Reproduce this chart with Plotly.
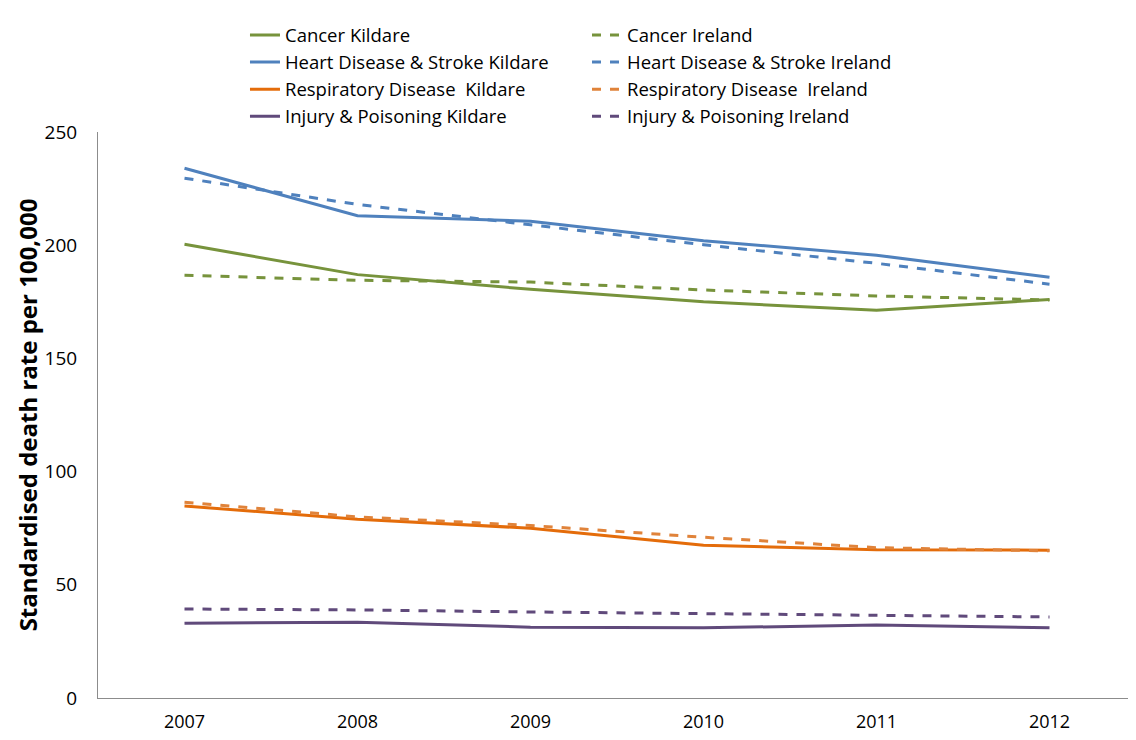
import plotly.graph_objects as go

years = ["2007", "2008", "2009", "2010", "2011", "2012"]

cancer_kildare = [200.4, 187.0, 180.5, 175.0, 171.3, 176.0]
cancer_ireland = [186.7, 184.5, 183.7, 180.2, 177.6, 175.8]
heart_kildare = [234.0, 213.0, 210.6, 202.0, 195.6, 185.8]
heart_ireland = [229.6, 218.0, 209.0, 200.2, 192.0, 182.8]
resp_kildare = [84.8, 79.0, 75.0, 67.5, 65.5, 65.3]
resp_ireland = [86.5, 80.0, 76.2, 71.0, 66.4, 65.0]
injury_kildare = [33.0, 33.5, 31.3, 31.0, 32.2, 31.0]
injury_ireland = [39.3, 38.9, 38.0, 37.2, 36.6, 35.8]

series = [
    ("Cancer Kildare", cancer_kildare, "#77933C", "solid", "legend"),
    ("Heart Disease & Stroke Kildare", heart_kildare, "#4F81BD", "solid", "legend"),
    ("Respiratory Disease  Kildare", resp_kildare, "#E46C0A", "solid", "legend"),
    ("Injury & Poisoning Kildare", injury_kildare, "#604A7B", "solid", "legend"),
    ("Cancer Ireland", cancer_ireland, "#77933C", "dash", "legend2"),
    ("Heart Disease & Stroke Ireland", heart_ireland, "#4F81BD", "dash", "legend2"),
    ("Respiratory Disease  Ireland", resp_ireland, "#E0833A", "dash", "legend2"),
    ("Injury & Poisoning Ireland", injury_ireland, "#604A7B", "dash", "legend2"),
]

fig = go.Figure()
for name, vals, color, dash, leg in series:
    fig.add_trace(go.Scatter(
        x=years, y=vals, name=name.replace("  ", "\u00a0 "), mode="lines",
        line=dict(color=color, width=3, dash=dash), legend=leg,
    ))

font_family = "'Open Sans', sans-serif"

legend_common = dict(
    orientation="v", xanchor="left", yanchor="top",
    xref="paper", yref="paper", y=1.204,
    font=dict(size=18.5, family=font_family),
    traceorder="normal", bgcolor="rgba(0,0,0,0)",
)

fig.update_layout(
    width=1136, height=740,
    margin=dict(l=90, r=8, t=124, b=50),
    plot_bgcolor="white", paper_bgcolor="white",
    font=dict(family=font_family, size=17, color="#000000"),
    showlegend=True,
    legend=dict(x=0.1416, **legend_common),
    legend2=dict(x=0.4711, **legend_common),
    xaxis=dict(
        type="category", range=[-0.5, 5.5],
        showgrid=False, showline=True, linecolor="#8C8C8C", linewidth=1,
        ticks="", tickfont=dict(size=18), zeroline=False,
        ticklabelstandoff=7,
    ),
    yaxis=dict(
        range=[0, 250], dtick=50,
        showgrid=False, showline=True, linecolor="#8C8C8C", linewidth=1,
        ticks="", tickfont=dict(size=19), zeroline=False,
        ticklabelstandoff=16,
        title=dict(text="<b>Standardised death rate per 100,000</b>",
                   font=dict(size=24), standoff=0),
    ),
)

fig.write_html("out.html")
